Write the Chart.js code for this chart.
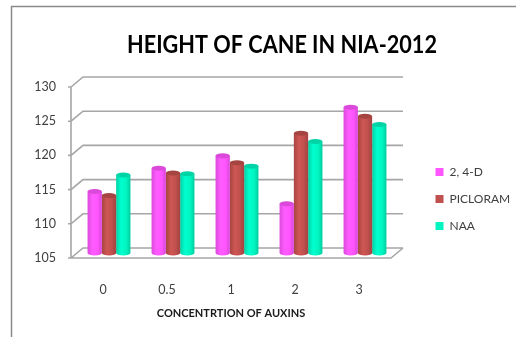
<!DOCTYPE html>
<html>
<head>
<meta charset="utf-8">
<style>
  html, body { margin: 0; padding: 0; background: #fff; }
  canvas { display: block; }
</style>
<script src="https://cdn.jsdelivr.net/npm/chart.js@4/dist/chart.umd.min.js"></script>
</head>
<body>
<canvas id="c" width="516" height="337"></canvas>
<script>
const concentrations = ['0', '0.5', '1', '2', '3'];
const values24D = [114.0, 117.4, 119.2, 112.2, 126.3];
const valuesPicloram = [113.4, 116.7, 118.2, 122.5, 125.0];
const valuesNAA = [116.4, 116.6, 117.7, 121.3, 123.8];
const seriesColors = ['#ff55ff', '#c0504d', '#00f5c0'];

const FONT = 'Lato, Carlito, sans-serif';
const DEPTH_X = 12;   // horizontal depth of the 3D box
const DEPTH_Y = -10;  // vertical depth of the 3D box
const GRID = '#a6a6a6';

function shade(hex, k) {
  const n = parseInt(hex.slice(1), 16);
  const ch = s => Math.max(0, Math.min(255, Math.round(((n >> s) & 255) * k)));
  return `rgb(${ch(16)},${ch(8)},${ch(0)})`;
}

// Frame, floor and walls of the 3D plot box, painted behind the bars
const boxPlugin = {
  id: 'box3d',
  beforeDraw(chart) {
    const { ctx, chartArea: a, scales: { y } } = chart;
    ctx.save();
    ctx.strokeStyle = '#8a8a8a';
    ctx.lineWidth = 1.5;
    ctx.beginPath();
    ctx.moveTo(11.5, 337);
    ctx.lineTo(11.5, 6.5);
    ctx.lineTo(516, 6.5);
    ctx.stroke();

    ctx.strokeStyle = GRID;
    ctx.lineWidth = 1.6;
    ctx.beginPath();
    y.ticks.forEach(t => {
      const py = y.getPixelForValue(t.value);
      ctx.moveTo(a.left - 3, py);
      ctx.lineTo(a.left, py);
      ctx.lineTo(a.left + DEPTH_X, py + DEPTH_Y);
      ctx.lineTo(a.right + DEPTH_X, py + DEPTH_Y);
    });
    ctx.moveTo(a.left, a.top);
    ctx.lineTo(a.left, a.bottom);
    ctx.lineTo(a.right, a.bottom);
    ctx.lineTo(a.right + DEPTH_X, a.bottom + DEPTH_Y);
    ctx.stroke();
    ctx.restore();
  }
};

// Paints each bar as a shaded cylinder standing mid-way into the box
const cylinderPlugin = {
  id: 'cylinders',
  beforeDatasetDraw(chart, args) {
    const { ctx, scales } = chart;
    const color = args.meta.controller.getDataset().backgroundColor;
    const floor = scales.y.getPixelForValue(scales.y.min);
    ctx.save();
    ctx.translate(DEPTH_X / 2, DEPTH_Y / 2);
    args.meta.data.forEach(bar => {
      const { x, y, width } = bar.getProps(['x', 'y', 'width'], true);
      const rx = width / 2, ry = 2.5, left = x - rx, right = x + rx;
      const g = ctx.createLinearGradient(left, 0, right, 0);
      g.addColorStop(0, shade(color, 0.86));
      g.addColorStop(0.35, shade(color, 1.08));
      g.addColorStop(0.7, color);
      g.addColorStop(1, shade(color, 0.84));
      ctx.fillStyle = g;
      ctx.beginPath();
      ctx.moveTo(left, y);
      ctx.lineTo(left, floor);
      ctx.ellipse(x, floor, rx, ry, 0, Math.PI, 0, true);
      ctx.lineTo(right, y);
      ctx.closePath();
      ctx.fill();
      ctx.fillStyle = shade(color, 0.86);
      ctx.beginPath();
      ctx.ellipse(x, y, rx, ry, 0, 0, Math.PI * 2);
      ctx.fill();
    });
    ctx.restore();
    return false;
  }
};

// Title and legend sit off-centre relative to the plot
const placementPlugin = {
  id: 'placement',
  afterLayout(chart) {
    const t = chart.titleBlock;
    t.left = 127; t.right = 437; t.width = 310;
    const l = chart.legend;
    const w = l.width, h = l.height;
    l.left = 420.5; l.right = l.left + w;
    l.top = 199 - h / 2; l.bottom = l.top + h;
  }
};

new Chart(document.getElementById('c'), {
  type: 'bar',
  data: {
    labels: concentrations,
    datasets: [
      { label: '2, 4-D', data: values24D, backgroundColor: seriesColors[0] },
      { label: 'PICLORAM', data: valuesPicloram, backgroundColor: seriesColors[1] },
      { label: 'NAA', data: valuesNAA, backgroundColor: seriesColors[2] }
    ]
  },
  plugins: [boxPlugin, cylinderPlugin, placementPlugin],
  options: {
    responsive: false,
    animation: false,
    layout: { padding: { left: 20, right: 125, top: 24, bottom: 17 } },
    categoryPercentage: 0.67,
    barPercentage: 1,
    scales: {
      x: {
        grid: { display: false },
        border: { display: false },
        afterFit(s) { s.height = 62; },
        ticks: { padding: 16, color: '#404040', font: { family: FONT, size: 12.5 } },
        title: {
          display: true,
          text: 'CONCENTRTION OF AUXINS',
          color: '#1a1a1a',
          padding: { top: 15, bottom: 0 },
          font: { family: FONT, size: 11, weight: 'bold' }
        }
      },
      y: {
        min: 105,
        max: 130,
        grid: { display: false },
        border: { display: false },
        afterFit(s) { s.width = 51; },
        ticks: { stepSize: 5, padding: 7, color: '#404040', font: { family: FONT, size: 12.5 } }
      }
    },
    plugins: {
      title: {
        display: true,
        text: 'HEIGHT OF CANE IN NIA-2012',
        color: '#000',
        padding: { top: 6, bottom: 27 },
        font: { family: FONT, size: 25, weight: 'bold' }
      },
      legend: {
        position: 'chartArea',
        labels: {
          boxWidth: 8,
          boxHeight: 8,
          padding: 15,
          color: '#404040',
          font: { family: FONT, size: 12 }
        }
      },
      tooltip: { enabled: false }
    }
  }
});
</script>
</body>
</html>
